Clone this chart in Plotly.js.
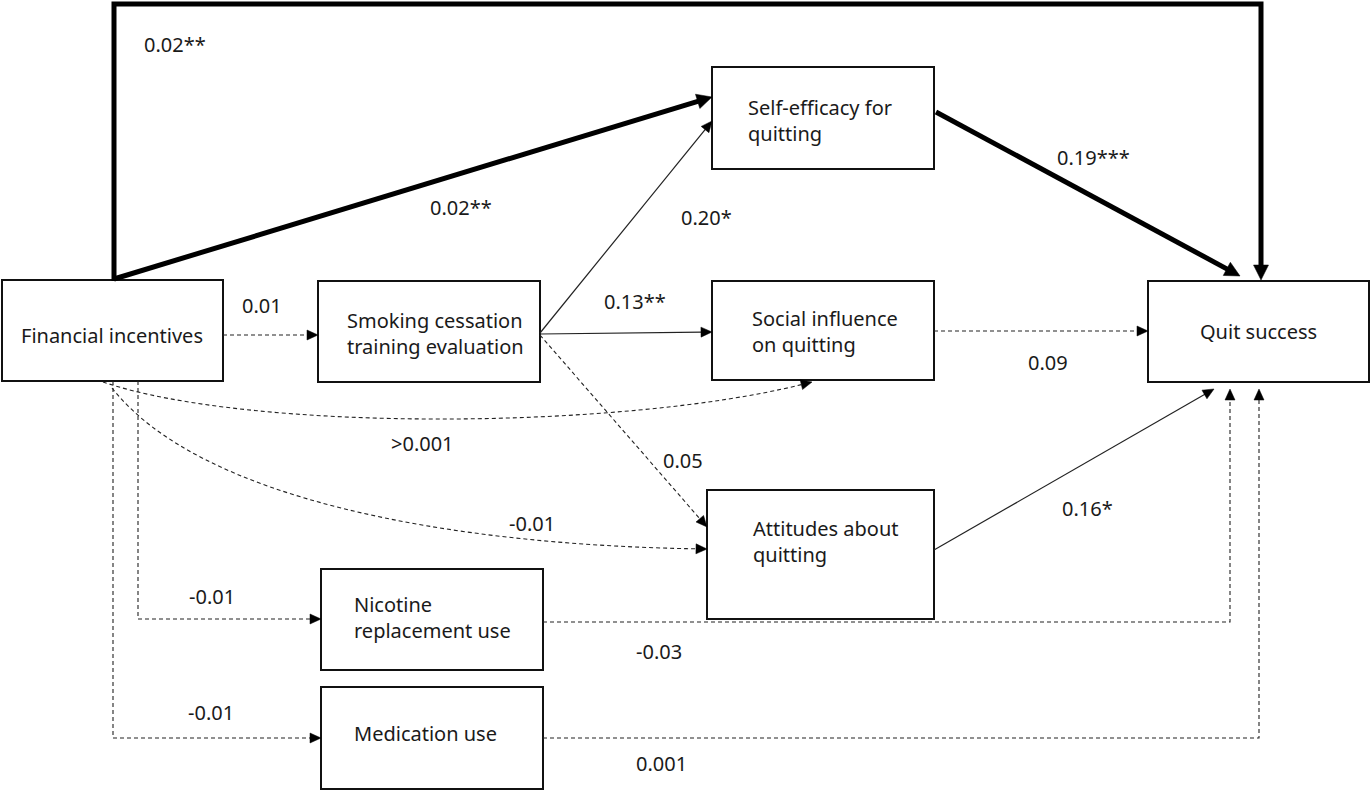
<!DOCTYPE html>
<html><head><meta charset="utf-8">
<script src="https://cdn.plot.ly/plotly-3.0.1.min.js"></script>
<style>html,body{margin:0;padding:0;background:#fff}</style>
</head><body><div id="chart" style="width:1370px;height:790px"></div>
<script>
// ---- DATA ----
const nodeIds = ['fin','train','self','social','att','quit','nrt','med'];
const nodeLabels = ['Financial incentives','Smoking cessation<br>training evaluation','Self-efficacy for<br>quitting','Social influence<br>on quitting','Attitudes about<br>quitting','Quit success','Nicotine<br>replacement use','Medication use'];
const edgeFrom = ['fin','fin','fin','train','train','train','self','social','att','fin','fin','fin','fin','nrt','med'];
const edgeTo   = ['quit','self','train','self','social','att','quit','quit','quit','social','att','nrt','med','quit','quit'];
const edgeCoef = ['0.02**','0.02**','0.01','0.20*','0.13**','0.05','0.19***','0.09','0.16*','>0.001','-0.01','-0.01','-0.01','-0.03','0.001'];

// ---- DRAWING CONFIG (positions / styles) ----
const boxGeom = {
  fin:[2,280,223,381], train:[318,281,540,382], self:[712,67,934,169], social:[712,281,934,380],
  att:[707,490,934,619], quit:[1148,281,1369,382], nrt:[321,569,543,670], med:[321,687,543,789]
};
const textPos = {
  fin:[19,335,'left'], train:[345,333,'left'], self:[746,120,'left'], social:[750,331,'left'],
  att:[751,541,'left'], quit:[1258,331,'center'], nrt:[352,617,'left'], med:[352,733,'left']
};
const STYLE = {
  strong:{color:'#000', width:5, dash:'solid', alen:15, awid:15},
  solid:{color:'#222', width:1.2, dash:'solid', alen:11, awid:10},
  ns:{color:'#222', width:1.1, dash:'4px,3px', alen:11, awid:10}
};
const routes = [
  {kind:'strong', pts:[[114,281],[114,4],[1261,4],[1261,280]], lab:[175,44]},
  {kind:'strong', pts:[[114,279],[712,97]], lab:[461,207]},
  {kind:'ns', pts:[[223,335],[318,335]], lab:[262,305]},
  {kind:'solid', pts:[[540,333],[712,121]], lab:[706,217]},
  {kind:'solid', pts:[[540,334],[712,332]], lab:[635,301]},
  {kind:'ns', pts:[[540,335],[707,527]], lab:[683,460]},
  {kind:'strong', pts:[[936,112],[1240,276]], lab:[1093,157]},
  {kind:'ns', pts:[[934,331],[1148,331]], lab:[1048,362]},
  {kind:'solid', pts:[[934,550],[1214,389]], lab:[1087,508]},
  {kind:'ns', bez:[[103,382],[250,432],[620,430],[812,382]], lab:[422,443]},
  {kind:'ns', bez:[[112,388],[200,500],[450,545],[707,549]], lab:[532,523]},
  {kind:'ns', pts:[[138,381],[138,619],[321,619]], lab:[212,596]},
  {kind:'ns', pts:[[113,381],[113,738],[321,738]], lab:[211,712]},
  {kind:'ns', pts:[[543,622],[1230,622],[1230,389]], lab:[659,651]},
  {kind:'ns', pts:[[543,738],[1259,738],[1259,389]], lab:[661,763]}
];

const FONT = 'Noto Sans, Open Sans, sans-serif';
const shapes = [], annotations = [];

// boxes
nodeIds.forEach((id,i)=>{
  const g = boxGeom[id];
  shapes.push({type:'rect', xref:'x', yref:'y', x0:g[0], y0:g[1], x1:g[2], y1:g[3],
    line:{color:'#111', width:2}, fillcolor:'rgba(255,255,255,0)', layer:'above'});
  const t = textPos[id];
  annotations.push({x:t[0], y:t[1], xref:'x', yref:'y', text:nodeLabels[i], showarrow:false,
    xanchor:t[2], yanchor:'middle', align:'left', font:{family:FONT, size:20, color:'#1a1a1a'}});
});

// edges
edgeFrom.forEach((f,i)=>{
  const r = routes[i], s = STYLE[r.kind];
  let path, tip, dir;
  if (r.bez) {
    const b = r.bez;
    tip = b[3];
    dir = [b[3][0]-b[2][0], b[3][1]-b[2][1]];
    const n = Math.hypot(dir[0],dir[1]); dir=[dir[0]/n,dir[1]/n];
    const end = [tip[0]-dir[0]*(s.alen-2), tip[1]-dir[1]*(s.alen-2)];
    path = `M${b[0][0]},${b[0][1]} C${b[1][0]},${b[1][1]} ${b[2][0]},${b[2][1]} ${end[0]},${end[1]}`;
  } else {
    const p = r.pts;
    tip = p[p.length-1];
    const prev = p[p.length-2];
    dir = [tip[0]-prev[0], tip[1]-prev[1]];
    const n = Math.hypot(dir[0],dir[1]); dir=[dir[0]/n,dir[1]/n];
    const end = [tip[0]-dir[0]*(s.alen-1), tip[1]-dir[1]*(s.alen-1)];
    path = `M${p[0][0]},${p[0][1]}`;
    for (let k=1;k<p.length-1;k++) path += ` L${p[k][0]},${p[k][1]}`;
    path += ` L${end[0]},${end[1]}`;
  }
  shapes.push({type:'path', xref:'x', yref:'y', path, line:{color:s.color, width:s.width, dash:s.dash}});
  // arrowhead
  const base = [tip[0]-dir[0]*s.alen, tip[1]-dir[1]*s.alen];
  const perp = [-dir[1], dir[0]];
  const h = s.awid/2;
  const a = [base[0]+perp[0]*h, base[1]+perp[1]*h], c = [base[0]-perp[0]*h, base[1]-perp[1]*h];
  shapes.push({type:'path', xref:'x', yref:'y', path:`M${tip[0]},${tip[1]} L${a[0]},${a[1]} L${c[0]},${c[1]} Z`,
    fillcolor:'#000', line:{color:'#000', width:0.5}});
  annotations.push({x:r.lab[0], y:r.lab[1], xref:'x', yref:'y', text:edgeCoef[i], showarrow:false,
    xanchor:'center', yanchor:'middle', font:{family:FONT, size:20, color:'#1a1a1a'}});
});

const layout = {
  width:1370, height:790, margin:{l:0,r:0,t:0,b:0}, paper_bgcolor:'#fff', plot_bgcolor:'#fff',
  xaxis:{range:[0,1370], visible:false, fixedrange:true},
  yaxis:{range:[790,0], visible:false, fixedrange:true},
  shapes, annotations, showlegend:false
};
Plotly.newPlot('chart', [{x:[0],y:[0],mode:'markers',marker:{opacity:0},hoverinfo:'skip'}], layout, {staticPlot:true, displayModeBar:false});
</script></body></html>
